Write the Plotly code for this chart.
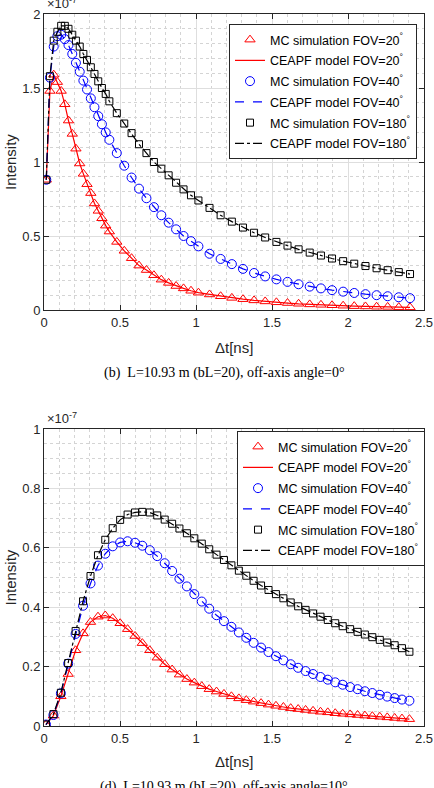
import plotly.graph_objects as go

# ---------------- data (intensity in units of 1e-7) ----------------
# Panel (b): off-axis angle = 0 deg
t_b = [0.015, 0.039, 0.064, 0.088, 0.113, 0.137, 0.161, 0.186, 0.210, 0.235,
       0.259, 0.283, 0.308, 0.332, 0.357, 0.381, 0.406, 0.430,
       0.479, 0.528, 0.576, 0.625, 0.674, 0.723, 0.772, 0.820, 0.869, 0.918, 0.967, 1.016,
       1.089, 1.162, 1.236, 1.309, 1.382, 1.455, 1.529, 1.602, 1.675, 1.748,
       1.822, 1.895, 1.968, 2.041, 2.115, 2.188, 2.261, 2.334, 2.408]
fov20_b = [0.88, 1.48, 1.59, 1.54, 1.48, 1.39, 1.28, 1.19, 1.09, 0.99,
           0.92, 0.85, 0.79, 0.72, 0.67, 0.62, 0.57, 0.53,
           0.46, 0.40, 0.35, 0.30, 0.27, 0.235, 0.205, 0.183, 0.162, 0.146, 0.13, 0.117,
           0.105, 0.093, 0.082, 0.073, 0.065, 0.058, 0.052, 0.047, 0.042, 0.038,
           0.035, 0.032, 0.029, 0.026, 0.024, 0.022, 0.021, 0.019, 0.018]
fov40_b = [0.88, 1.57, 1.78, 1.85, 1.86, 1.83, 1.79, 1.73, 1.67, 1.61,
           1.55, 1.49, 1.43, 1.37, 1.31, 1.255, 1.20, 1.15,
           1.06, 0.975, 0.895, 0.82, 0.755, 0.695, 0.64, 0.59, 0.545, 0.50, 0.465, 0.43,
           0.38, 0.345, 0.31, 0.278, 0.25, 0.227, 0.207, 0.19, 0.174, 0.158,
           0.146, 0.134, 0.124, 0.115, 0.107, 0.100, 0.093, 0.086, 0.080]
fov180_b = [0.88, 1.58, 1.82, 1.88, 1.92, 1.92, 1.90, 1.86, 1.82, 1.78,
            1.73, 1.69, 1.64, 1.595, 1.545, 1.50, 1.46, 1.41,
            1.33, 1.26, 1.195, 1.12, 1.06, 1.00, 0.955, 0.91, 0.86, 0.815, 0.775, 0.74,
            0.69, 0.64, 0.597, 0.557, 0.522, 0.49, 0.46, 0.435, 0.41, 0.388,
            0.368, 0.348, 0.33, 0.313, 0.297, 0.282, 0.269, 0.256, 0.243]

# Panel (d): off-axis angle = 10 deg
t_d = [0.013, 0.062, 0.111, 0.159, 0.208, 0.257, 0.306, 0.355, 0.403, 0.452,
       0.501, 0.550, 0.599, 0.647, 0.696, 0.745, 0.794, 0.843, 0.891, 0.940,
       0.989, 1.038, 1.087, 1.135, 1.184, 1.233, 1.282, 1.331, 1.379, 1.428,
       1.477, 1.526, 1.575, 1.623, 1.672, 1.721, 1.770, 1.819, 1.867, 1.916,
       1.965, 2.014, 2.063, 2.111, 2.160, 2.209, 2.258, 2.307, 2.355, 2.404]
fov20_d = [0.005, 0.035, 0.10, 0.175, 0.255, 0.312, 0.350, 0.368, 0.372, 0.363,
           0.346, 0.326, 0.303, 0.279, 0.255, 0.230, 0.208, 0.190, 0.173, 0.158,
           0.146, 0.134, 0.124, 0.116, 0.108, 0.100, 0.093, 0.087, 0.082, 0.077,
           0.072, 0.068, 0.064, 0.060, 0.057, 0.054, 0.051, 0.048, 0.046, 0.043,
           0.041, 0.039, 0.037, 0.035, 0.033, 0.031, 0.029, 0.027, 0.025, 0.023]
fov40_d = [0.005, 0.037, 0.11, 0.21, 0.31, 0.405, 0.48, 0.54, 0.58, 0.605,
           0.618, 0.622, 0.617, 0.607, 0.592, 0.572, 0.548, 0.522, 0.496, 0.470,
           0.444, 0.419, 0.395, 0.373, 0.353, 0.334, 0.315, 0.297, 0.280, 0.264,
           0.249, 0.235, 0.221, 0.208, 0.196, 0.185, 0.175, 0.165, 0.156, 0.147,
           0.139, 0.131, 0.124, 0.117, 0.111, 0.105, 0.099, 0.094, 0.089, 0.085]
fov180_d = [0.005, 0.04, 0.112, 0.212, 0.32, 0.42, 0.505, 0.575, 0.627, 0.666,
            0.694, 0.712, 0.719, 0.721, 0.719, 0.709, 0.695, 0.681, 0.665, 0.649,
            0.632, 0.614, 0.595, 0.577, 0.559, 0.541, 0.523, 0.506, 0.489, 0.473,
            0.458, 0.444, 0.430, 0.416, 0.403, 0.391, 0.379, 0.368, 0.357, 0.346,
            0.336, 0.326, 0.317, 0.308, 0.299, 0.290, 0.281, 0.272, 0.262, 0.250]

x_ticks = [0, 0.5, 1, 1.5, 2, 2.5]
y_ticks_b = [0, 0.5, 1, 1.5, 2]
y_ticks_d = [0, 0.2, 0.4, 0.6, 0.8, 1]

mc_names = ["MC simulation FOV=20<sup>°</sup>", "MC simulation FOV=40<sup>°</sup>",
            "MC simulation FOV=180<sup>°</sup>"]
model_names = ["CEAPF model FOV=20<sup>°</sup>", "CEAPF model FOV=40<sup>°</sup>",
               "CEAPF model FOV=180<sup>°</sup>"]
captions = ["(b)  L=10.93 m (bL=20), off-axis angle=0°",
            "(d)  L=10.93 m (bL=20), off-axis angle=10°"]

# ---------------- styling ----------------
W, H = 434, 788
colors = ["#ff0000", "#0000ff", "#000000"]
symbols = ["triangle-up-open", "circle-open", "square-open"]
msizes = [9, 9, 7]
dashes = ["solid", "dash", "dashdot"]
FONT = "Liberation Sans, Arial, sans-serif"
AX = "#262626"

def px_x(p):
    return p / W

def px_y(p):
    return 1 - p / H

fig = go.Figure()

panels = [
    dict(t=t_b, ys=[fov20_b, fov40_b, fov180_b], xa="x", ya="y", legend="legend"),
    dict(t=t_d, ys=[fov20_d, fov40_d, fov180_d], xa="x2", ya="y2", legend="legend2"),
]

for pi, p in enumerate(panels):
    for i in range(3):
        fig.add_trace(go.Scatter(
            x=p["t"], y=p["ys"][i], mode="markers", name=mc_names[i],
            marker=dict(symbol=symbols[i], size=msizes[i], color=colors[i],
                        line=dict(width=1, color=colors[i])),
            xaxis=p["xa"], yaxis=p["ya"], legend=p["legend"],
            legendgroup=f"g{pi}{i}a", cliponaxis=True))
        fig.add_trace(go.Scatter(
            x=p["t"], y=p["ys"][i], mode="lines", name=model_names[i],
            line=dict(color=colors[i], width=1.2, dash=dashes[i]),
            xaxis=p["xa"], yaxis=p["ya"], legend=p["legend"],
            legendgroup=f"g{pi}{i}b"))

def xaxis(domain, anchor):
    return dict(domain=domain, anchor=anchor, range=[0, 2.5], tickvals=x_ticks,
                ticktext=[f"{v:g}" for v in x_ticks],
                ticks="inside", ticklen=5, tickcolor=AX, showline=True, linecolor=AX,
                linewidth=1, mirror="ticks", showgrid=True, gridcolor="#dedede",
                gridwidth=1, zeroline=False,
                minor=dict(dtick=0.1, showgrid=True, gridcolor="#d4d4d4",
                           griddash="dot", ticks=""),
                tickfont=dict(family=FONT, size=13, color="#262626"))

def yaxis(domain, anchor, rng, tv, mdt):
    return dict(domain=domain, anchor=anchor, range=rng, tickvals=tv,
                ticktext=[f"{v:g}" for v in tv],
                ticks="inside", ticklen=5, tickcolor=AX, showline=True, linecolor=AX,
                linewidth=1, mirror="ticks", showgrid=True, gridcolor="#dedede",
                gridwidth=1, zeroline=False,
                minor=dict(dtick=mdt, showgrid=True, gridcolor="#d4d4d4",
                           griddash="dot", ticks=""),
                tickfont=dict(family=FONT, size=13, color="#262626"))

xdom = [px_x(44), px_x(424)]
legend_common = dict(bgcolor="white", bordercolor=AX, borderwidth=1,
                     font=dict(family=FONT, size=12.5, color="#000000"),
                     xanchor="left", yanchor="top", tracegroupgap=1.5,
                     itemwidth=30)

fig.update_layout(
    width=W, height=H,
    margin=dict(l=0, r=0, t=0, b=0, autoexpand=False),
    paper_bgcolor="white", plot_bgcolor="white",
    xaxis=xaxis(xdom, "y"),
    yaxis=yaxis([px_y(310), px_y(14)], "x", [0, 2], y_ticks_b, 0.1),
    xaxis2=xaxis(xdom, "y2"),
    yaxis2=yaxis([px_y(726), px_y(429)], "x2", [0, 1], y_ticks_d, 0.05),
    legend=dict(x=px_x(229), y=px_y(24), **legend_common),
    legend2=dict(x=px_x(237), y=px_y(431), **legend_common),
)

annots = []
for top, bot, xt_y in [(14, 310, 347), (429, 726, 761)]:
    annots.append(dict(text="×10<sup>-7</sup>", x=px_x(45), y=px_y(top - 1),
                       xref="paper", yref="paper", xanchor="left", yanchor="bottom",
                       showarrow=False, font=dict(family=FONT, size=13, color="#262626")))
    annots.append(dict(text="Intensity", x=px_x(10), y=px_y((top + bot) / 2),
                       xref="paper", yref="paper", xanchor="center", yanchor="middle",
                       textangle=-90, showarrow=False,
                       font=dict(family=FONT, size=15, color="#262626")))
    annots.append(dict(text="Δt[ns]", x=px_x(234), y=px_y(xt_y),
                       xref="paper", yref="paper", xanchor="center", yanchor="middle",
                       showarrow=False, font=dict(family=FONT, size=15, color="#262626")))
annots.append(dict(text=captions[0], x=px_x(224), y=px_y(373),
                   xref="paper", yref="paper", xanchor="center", yanchor="middle",
                   showarrow=False,
                   font=dict(family="Liberation Serif, serif", size=14, color="#000000")))
# caption of panel (d): cut by the bottom edge of the page, as in the reference
annots.append(dict(text=captions[1], x=px_x(224), y=px_y(787),
                   xref="paper", yref="paper", xanchor="center", yanchor="middle",
                   showarrow=False,
                   font=dict(family="Liberation Serif, serif", size=14, color="#000000")))
fig.update_layout(annotations=annots)

fig.write_html("out.html")
